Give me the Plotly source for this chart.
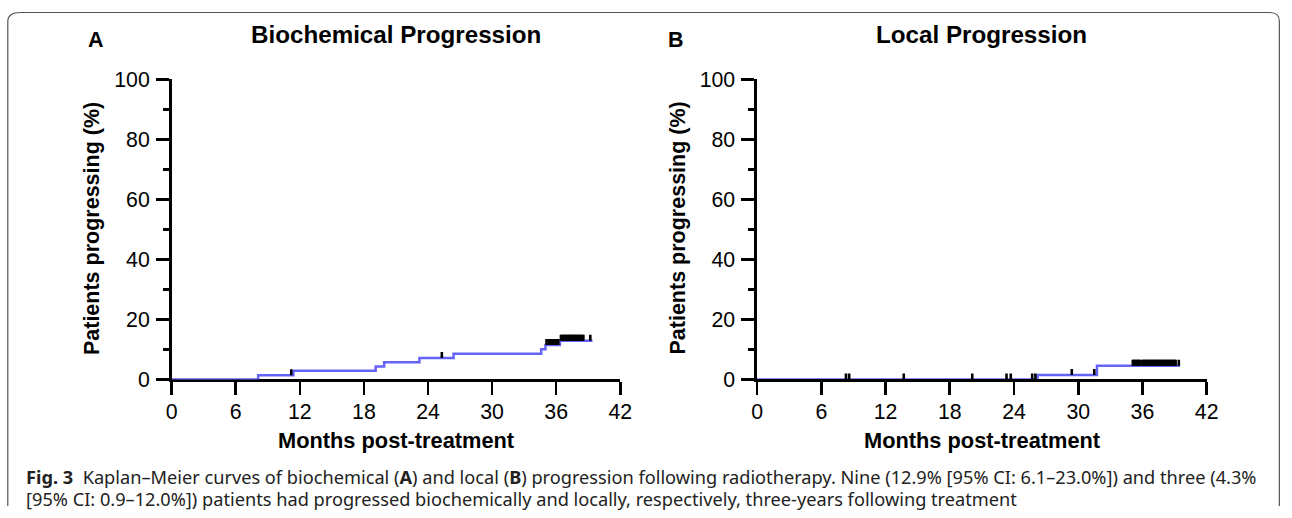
import numpy as np
import plotly.graph_objects as go

# ---------------- data ----------------
x_ticks = [0, 6, 12, 18, 24, 30, 36, 42]
y_ticks = [0, 20, 40, 60, 80, 100]

# Panel A: biochemical progression (Kaplan-Meier step curve)
bio_time = [0, 8.1, 11.4, 19.1, 19.9, 23.2, 26.4, 34.6, 35.0, 36.35, 39.4]
bio_pct = [0, 1.43, 2.86, 4.29, 5.71, 7.14, 8.6, 10.1, 11.5, 12.9, 12.9]
bio_censor = [11.2, 25.3, 35.1, 35.3,
              35.5, 35.6, 35.7, 35.8, 35.9, 36.0, 36.1, 36.2,
              36.45, 36.55, 36.65, 36.75, 36.85, 36.95, 37.05, 37.15, 37.25,
              37.35, 37.45, 37.55, 37.65, 37.75, 37.85, 37.95, 38.05, 38.15,
              38.25, 38.35, 38.45, 38.55, 39.2]

# Panel B: local progression
loc_time = [0, 26.2, 31.75, 39.5]
loc_pct = [0, 1.45, 4.6, 4.6]
loc_censor = [8.3, 8.6, 13.7, 20.1, 23.3, 23.7, 25.7, 26.0, 29.4, 31.5,
              35.1, 35.2, 35.3, 35.4, 35.5, 35.6, 35.7, 35.8,
              36.0, 36.1, 36.2, 36.3, 36.4, 36.5, 36.6, 36.7, 36.8, 36.9,
              37.0, 37.1, 37.2, 37.3, 37.4, 37.5, 37.6, 37.7, 37.8, 37.9,
              38.0, 38.1, 38.2, 38.3, 38.4, 38.5, 38.6, 38.7, 38.8, 38.9,
              39.0, 39.1, 39.4]

titles = ["Biochemical Progression", "Local Progression"]
panel_labels = ["A", "B"]
x_title = "Months post-treatment"
y_title = "Patients progressing (%)"
caption_1 = ("<b>Fig. 3</b>  Kaplan–Meier curves of biochemical (<b>A</b>) and local (<b>B</b>) "
             "progression following radiotherapy. Nine (12.9% [95% CI: 6.1–23.0%]) and three (4.3%")
caption_2 = ("[95% CI: 0.9–12.0%]) patients had progressed biochemically and locally, "
             "respectively, three-years following treatment")

# ---------------- styling / layout ----------------
W, H = 1292, 518
CURVE = "#6464FA"
FONT = "Liberation Sans, Arial, sans-serif"
TICK_H = 2.0  # height of censor tick (in % units)

# calibration of the photographed page (observed offset/scale of the capture)
AX, BX = 5.2, 0.987
AY, BY = 12.8, 0.953


def px(r):
    """target picture x (pixels) -> paper fraction"""
    return min(max((r - AX) / BX / W, 0.0), 1.0)


def py(r):
    """target picture y (pixels, from top) -> paper fraction"""
    return min(max(1 - (r - AY) / BY / H, 0.0), 1.0)


def level_at(times, pcts, t):
    idx = np.searchsorted(np.array(times), np.array(t), side="right") - 1
    return list(np.array(pcts)[idx])


fig = go.Figure()

panels = [
    dict(t=bio_time, p=bio_pct, c=bio_censor, xa="x", ya="y", layer="below traces"),
    dict(t=loc_time, p=loc_pct, c=loc_censor, xa="x2", ya="y2", layer="above traces"),
]

for pnl in panels:
    fig.add_trace(go.Scatter(
        x=pnl["t"], y=pnl["p"], mode="lines", line=dict(color=CURVE, width=2.5, shape="hv"),
        xaxis=pnl["xa"], yaxis=pnl["ya"], showlegend=False, hoverinfo="skip"))
    lev = level_at(pnl["t"], pnl["p"], pnl["c"])
    fig.add_trace(go.Scatter(
        x=pnl["c"], y=lev, mode="markers",
        marker=dict(size=1, color="rgba(0,0,0,0)"),
        error_y=dict(type="data", symmetric=False, array=[TICK_H] * len(lev),
                     arrayminus=[0] * len(lev), width=0, thickness=2.6, color="black"),
        xaxis=pnl["xa"], yaxis=pnl["ya"], showlegend=False, hoverinfo="skip"))

x_domains = [[px(171), px(620)], [px(757), px(1207)]]
y_domain = [py(380), py(80)]

axis_common = dict(showgrid=False, zeroline=False, showline=True, linecolor="black",
                   linewidth=2.6, ticks="outside", tickcolor="black", tickwidth=2.6,
                   tickfont=dict(family=FONT, size=21.3, color="black"))

for i, suffix in enumerate(["", "2"]):
    fig.layout["xaxis" + suffix] = dict(
        axis_common, domain=x_domains[i], range=[0, 42], tickvals=x_ticks, ticklen=13,
        anchor="y" + suffix, layer=panels[i]["layer"], ticklabelstandoff=-2, fixedrange=True)
    fig.layout["yaxis" + suffix] = dict(
        axis_common, domain=y_domain, range=[0, 100], tickvals=y_ticks, ticklen=13,
        anchor="x" + suffix, layer="above traces", ticklabelstandoff=2, fixedrange=True,
        minor=dict(dtick=10, tick0=0, ticklen=6, tickwidth=2.6, tickcolor="black",
                   ticks="outside"))

title_x = [396, 982]
label_x = [95.5, 675.5]
xtitle_x = [396, 982]
ytitle_x = [92, 678]
annotations = []
for i in range(2):
    annotations.append(dict(text=titles[i], x=px(title_x[i]), y=py(35),
                            xref="paper", yref="paper", showarrow=False, xanchor="center",
                            yanchor="middle",
                            font=dict(family=FONT, size=24.2, color="black", weight="bold")))
    annotations.append(dict(text=panel_labels[i], x=px(label_x[i]), y=py(40.5),
                            xref="paper", yref="paper", showarrow=False, xanchor="center",
                            yanchor="middle",
                            font=dict(family=FONT, size=21.5, color="black", weight="bold")))
    annotations.append(dict(text=x_title, x=px(xtitle_x[i]), y=py(441),
                            xref="paper", yref="paper", showarrow=False, xanchor="center",
                            yanchor="middle",
                            font=dict(family=FONT, size=21.8, color="black", weight="bold")))
    annotations.append(dict(text=y_title, x=px(ytitle_x[i]), y=py(229), textangle=-90,
                            xref="paper", yref="paper", showarrow=False, xanchor="center",
                            yanchor="middle",
                            font=dict(family=FONT, size=21.5, color="black", weight="bold")))

cap_font = dict(family="Noto Sans, Open Sans, sans-serif", size=18.2, color="#222222")
annotations.append(dict(text=caption_1, x=px(23), y=py(477), xref="paper", yref="paper",
                        showarrow=False, xanchor="left", yanchor="middle", font=cap_font))
annotations.append(dict(text=caption_2, x=px(23), y=py(499), xref="paper", yref="paper",
                        showarrow=False, xanchor="left", yanchor="middle", font=cap_font))

# rounded frame around the figure
x0, x1 = px(7), min(px(1291), 0.9995)
yt = min(max(py(9.5), 0), 0.999)
yb = 0.0
path = (f"M {x0} {yb} L {x0} {py(22)} Q {x0} {yt} {px(20)} {yt} "
        f"L {px(1270)} {yt} Q {x1} {yt} {x1} {py(22)} L {x1} {yb}")

fig.update_layout(
    width=W, height=H, autosize=False,
    margin=dict(l=0, r=0, t=0, b=0),
    paper_bgcolor="white", plot_bgcolor="white",
    annotations=annotations,
    shapes=[dict(type="path", path=path, xref="paper", yref="paper",
                 line=dict(color="#555555", width=1.2))],
    showlegend=False,
)

fig.write_html(
    "out.html",
    config={"displayModeBar": False, "staticPlot": True},
    post_script="document.body.style.margin='0';document.body.style.padding='0';"
                "document.body.style.overflow='hidden';"
                "document.documentElement.style.overflow='hidden';",
)
